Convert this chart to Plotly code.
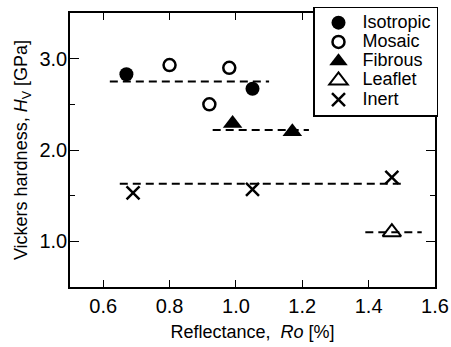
import plotly.graph_objects as go

# Data
iso_x = [0.67, 1.05]
iso_y = [2.83, 2.67]
mos_x = [0.80, 0.98, 0.92]
mos_y = [2.93, 2.90, 2.50]
fib_x = [0.99, 1.17]
fib_y = [2.29, 2.20]
lea_x = [1.47]
lea_y = [1.10]
ine_x = [0.69, 1.05, 1.47]
ine_y = [1.53, 1.57, 1.70]

# dashed average lines: (x start, x end, y)
avg_x0 = [0.62, 0.93, 0.65, 1.39]
avg_x1 = [1.10, 1.22, 1.50, 1.56]
avg_y = [2.75, 2.22, 1.63, 1.10]

names = ["Isotropic", "Mosaic", "Fibrous", "Leaflet", "Inert"]

FONT = "Liberation Sans, Arial, sans-serif"


def lg(name):
    return '<span style="font-size:18px">' + name + '</span>'


fig = go.Figure()

for x0, x1, y in zip(avg_x0, avg_x1, avg_y):
    fig.add_trace(go.Scatter(x=[x0, x1], y=[y, y], mode="lines",
                             line=dict(color="black", width=2, dash="8px,5px"),
                             showlegend=False, hoverinfo="skip"))

fig.add_trace(go.Scatter(x=iso_x, y=iso_y, mode="markers", name=lg(names[0]),
                         marker=dict(symbol="circle", size=14, color="black")))
fig.add_trace(go.Scatter(x=mos_x, y=mos_y, mode="markers", name=lg(names[1]),
                         marker=dict(symbol="circle-open", size=12, color="black",
                                     line=dict(width=2.5, color="black"))))
fig.add_trace(go.Scatter(x=fib_x, y=fib_y, mode="markers", name=lg(names[2]),
                         marker=dict(symbol="triangle-up", size=17, color="black")))
fig.add_trace(go.Scatter(x=lea_x, y=lea_y, mode="markers", name=lg(names[3]),
                         marker=dict(symbol="triangle-up-open", size=16, color="black",
                                     line=dict(width=2, color="black"))))
fig.add_trace(go.Scatter(x=ine_x, y=ine_y, mode="markers", name=lg(names[4]),
                         marker=dict(symbol="x-thin-open", size=13, color="black",
                                     line=dict(width=2.5, color="black"))))

fig.update_layout(
    width=451, height=347,
    margin=dict(l=70, r=16, t=13, b=60, autoexpand=False),
    paper_bgcolor="white", plot_bgcolor="white",
    font=dict(family=FONT, size=18, color="black"),
    legend=dict(x=(313 - 70) / 365, y=(287 - 6.5) / 274, xanchor="left", yanchor="top",
                bgcolor="white", bordercolor="black", borderwidth=1.5,
                font=dict(size=12.5), tracegroupgap=0, itemwidth=38),
    xaxis=dict(range=[0.5, 1.6], tick0=0.6, dtick=0.2, tickformat=".1f",
               ticks="inside", ticklen=7, tickwidth=1.2, tickcolor="black",
               showline=True, linecolor="black", linewidth=1.5, mirror="ticks",
               showgrid=False, zeroline=False,
               tickfont=dict(size=20), ticklabelstandoff=0,
               title=dict(text="Reflectance,  <i>Ro</i> [%]", font=dict(size=18), standoff=10)),
    yaxis=dict(range=[0.5, 3.5], tick0=1.0, dtick=1.0, tickformat=".1f",
               ticks="inside", ticklen=9, tickwidth=1.2, tickcolor="black",
               minor=dict(dtick=0.5, tick0=0.5, ticks="inside", ticklen=5, tickcolor="black", tickwidth=1.2),
               showline=True, linecolor="black", linewidth=1.5, mirror="ticks",
               showgrid=False, zeroline=False,
               tickfont=dict(size=20), ticklabelstandoff=-3,
               title=dict(text="Vickers hardness, <i>H</i><sub>V</sub> [GPa]", font=dict(size=18), standoff=7)),
    showlegend=True,
)

# legend shadow
fig.add_shape(type="rect", xref="paper", yref="paper",
              x0=(316 - 70) / 365, x1=(436 - 70) / 365,
              y0=(287 - 117) / 274, y1=(287 - 10) / 274,
              fillcolor="black", line=dict(width=0), layer="above")

fig.write_html("out.html")
